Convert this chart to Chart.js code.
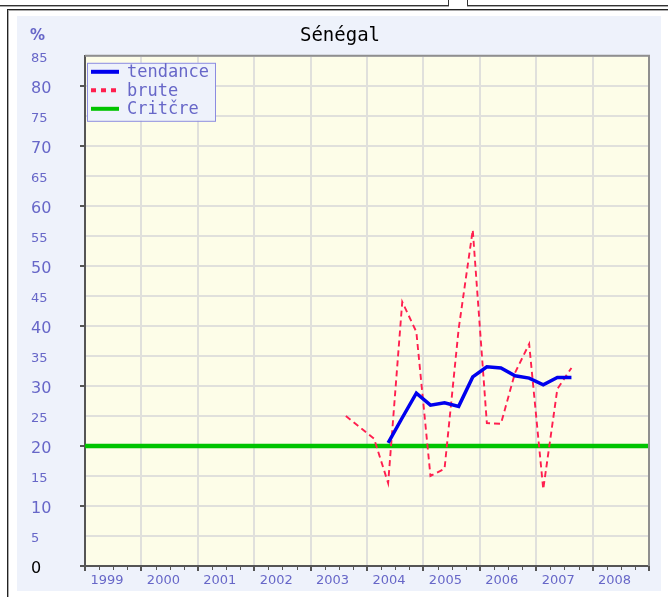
<!DOCTYPE html>
<html>
<head>
<meta charset="utf-8">
<script src="https://cdn.jsdelivr.net/npm/chart.js@4/dist/chart.umd.min.js"></script>
<style>
  html, body { margin: 0; padding: 0; background: #fff; width: 668px; height: 597px; overflow: hidden; position: relative; }
  .topbox { position: absolute; top: -10px; height: 14px; border: 1px solid #333; box-shadow: 0 1px 0 #aaa; }
  #box1 { left: -2px; width: 449px; }
  #box2 { left: 467px; width: 220px; }
  #frame { position: absolute; left: 7px; top: 9px; width: 700px; height: 620px; border-left: 1px solid #222; border-top: 1px solid #222; box-shadow: inset 1px 1px 0 #aaa; }
  #panel { position: absolute; left: 17px; top: 16px; width: 644px; height: 575px; background: #eef2fb; }
  canvas { display: block; }
</style>
</head>
<body>
<div class="topbox" id="box1"></div>
<div class="topbox" id="box2"></div>
<div id="frame"></div>
<div id="panel"><canvas id="c" width="644" height="575"></canvas></div>
<script>
// Trimestres observés (année T trimestre)
const periodes = ['2003T3', '2003T4', '2004T1', '2004T2', '2004T3', '2004T4',
                  '2005T1', '2005T2', '2005T3', '2005T4', '2006T1', '2006T2',
                  '2006T3', '2006T4', '2007T1', '2007T2', '2007T3'];

// Série brute (%)
const brute = [25, 23.1, 21.2, 13.8, 44, 39, 15, 16.2, 39.5, 56, 23.8, 23.7,
               32.2, 37, 12.8, 29.5, 33];

// Tendance (%)
const tendance = [null, null, null, 20.5, 24.7, 28.8, 26.8, 27.2, 26.6, 31.5,
                  33.2, 33, 31.7, 31.3, 30.2, 31.4, 31.4];

// Seuil critique (%)
const critereAnnees = [1999, 2009];
const critereValeurs = [20, 20];

// Années de l'axe horizontal
const annees = [1999, 2000, 2001, 2002, 2003, 2004, 2005, 2006, 2007, 2008, 2009];
const anneesLibelles = ['1999', '2000', '2001', '2002', '2003', '2004', '2005', '2006', '2007', '2008', ''];

// Position d'un trimestre au milieu de sa période
function posTrimestre(p) {
  const [a, t] = p.split('T').map(Number);
  return a + (t - 0.5) / 4;
}
function serie(valeurs) {
  return periodes.map((p, i) => ({ x: posTrimestre(p), y: valeurs[i] }));
}

const BLEU_TEXTE = '#6767c8';

// Fond jaune pâle et cadre de la zone de tracé
const fondZone = {
  id: 'fondZone',
  beforeDraw(chart) {
    const { ctx, chartArea: a } = chart;
    ctx.save();
    ctx.fillStyle = '#fdfde8';
    ctx.fillRect(a.left, a.top, a.right - a.left, a.bottom - a.top);
    ctx.restore();
  },
  afterDraw(chart) {
    const { ctx, chartArea: a, scales } = chart;
    ctx.save();
    // cadre haut / droite
    ctx.strokeStyle = '#8f8f8f';
    ctx.lineWidth = 2;
    ctx.beginPath();
    ctx.moveTo(a.left, a.top);
    ctx.lineTo(a.right, a.top);
    ctx.lineTo(a.right, a.bottom);
    ctx.stroke();
    // petites graduations trimestrielles
    const sx = scales.x;
    ctx.strokeStyle = '#555';
    ctx.lineWidth = 1;
    ctx.beginPath();
    for (let i = 0; i < annees.length - 1; i++) {
      for (let q = 1; q < 4; q++) {
        const px = Math.round(sx.getPixelForValue(annees[i] + q / 4)) + 0.5;
        ctx.moveTo(px, a.bottom + 1);
        ctx.lineTo(px, a.bottom + 4);
      }
    }
    ctx.stroke();
    // unité de l'axe vertical
    ctx.fillStyle = BLEU_TEXTE;
    ctx.font = 'bold 15px "DejaVu Sans"';
    ctx.textBaseline = 'top';
    ctx.textAlign = 'left';
    ctx.fillText('%', 13, 13);
    ctx.restore();
  }
};

// Légende encadrée dans le coin supérieur gauche
const legendeBoite = {
  id: 'legendeBoite',
  afterDraw(chart) {
    const { ctx, chartArea: a } = chart;
    const x0 = a.left + 2, y0 = a.top + 7, w = 128, h = 58;
    ctx.save();
    ctx.fillStyle = '#eef2fb';
    ctx.fillRect(x0, y0, w, h);
    ctx.strokeStyle = '#8c8ce0';
    ctx.lineWidth = 1;
    ctx.strokeRect(x0 + 0.5, y0 + 0.5, w, h);
    ctx.font = '17px "DejaVu Sans Mono"';
    ctx.textBaseline = 'middle';
    ctx.textAlign = 'left';
    chart.data.datasets.forEach((ds, i) => {
      const y = y0 + 9 + i * 18.5;
      ctx.strokeStyle = ds.borderColor;
      ctx.lineWidth = 4;
      ctx.setLineDash(ds.borderDash && ds.borderDash.length ? [5, 5] : []);
      ctx.beginPath();
      ctx.moveTo(x0 + 4, y);
      ctx.lineTo(x0 + 32, y);
      ctx.stroke();
      ctx.setLineDash([]);
      ctx.fillStyle = BLEU_TEXTE;
      ctx.fillText(ds.label, x0 + 40, y + 1);
    });
    ctx.restore();
  }
};

new Chart(document.getElementById('c'), {
  type: 'line',
  data: {
    datasets: [
      {
        label: 'tendance',
        data: serie(tendance),
        borderColor: '#0000ee',
        borderWidth: 3.5,
        pointRadius: 0,
        tension: 0,
        spanGaps: false
      },
      {
        label: 'brute',
        data: serie(brute),
        borderColor: '#ff1f4f',
        borderWidth: 1.9,
        borderDash: [6, 4],
        pointRadius: 0,
        tension: 0
      },
      {
        label: 'Critčre',
        data: critereAnnees.map((a, i) => ({ x: a, y: critereValeurs[i] })),
        borderColor: '#00c400',
        borderWidth: 4.5,
        pointRadius: 0,
        tension: 0
      }
    ]
  },
  options: {
    responsive: false,
    devicePixelRatio: 1,
    animation: false,
    layout: { padding: { left: 14, right: 12, top: 0, bottom: 0 } },
    plugins: {
      legend: { display: false },
      tooltip: { enabled: false },
      title: {
        display: true,
        text: 'Sénégal',
        color: '#000',
        font: { family: 'DejaVu Sans Mono', size: 19, weight: 'normal' },
        padding: { top: 9, bottom: 8 }
      }
    },
    scales: {
      x: {
        type: 'linear',
        min: annees[0],
        max: annees[annees.length - 1],
        afterBuildTicks: s => { s.ticks = annees.map(v => ({ value: v })); },
        afterFit: s => { s.height = 25; },
        grid: { color: '#e0e0dc', lineWidth: 2, tickColor: '#555', tickLength: 5 },
        border: { color: '#555', width: 2 },
        ticks: {
          autoSkip: false,
          maxRotation: 0,
          labelOffset: 22,
          padding: 2,
          color: BLEU_TEXTE,
          font: { family: 'DejaVu Sans', size: 13 },
          callback: v => anneesLibelles[annees.indexOf(v)]
        }
      },
      y: {
        min: 0,
        max: 85,
        afterFit: s => { s.width = 54; },
        grid: {
          color: '#e0e0dc',
          lineWidth: 2,
          tickLength: 5,
          tickColor: c => (c.tick && c.tick.value % 10 === 0) ? '#555' : 'rgba(0,0,0,0)'
        },
        border: { color: '#555', width: 2 },
        ticks: {
          stepSize: 5,
          crossAlign: 'far',
          labelOffset: 3,
          color: c => (c.tick && c.tick.value === 0) ? '#000' : BLEU_TEXTE,
          font: c => ({ family: 'DejaVu Sans', size: (c.tick && c.tick.value % 10 === 0) ? 16 : 13 })
        }
      }
    }
  },
  plugins: [fondZone, legendeBoite]
});
</script>
</body>
</html>
